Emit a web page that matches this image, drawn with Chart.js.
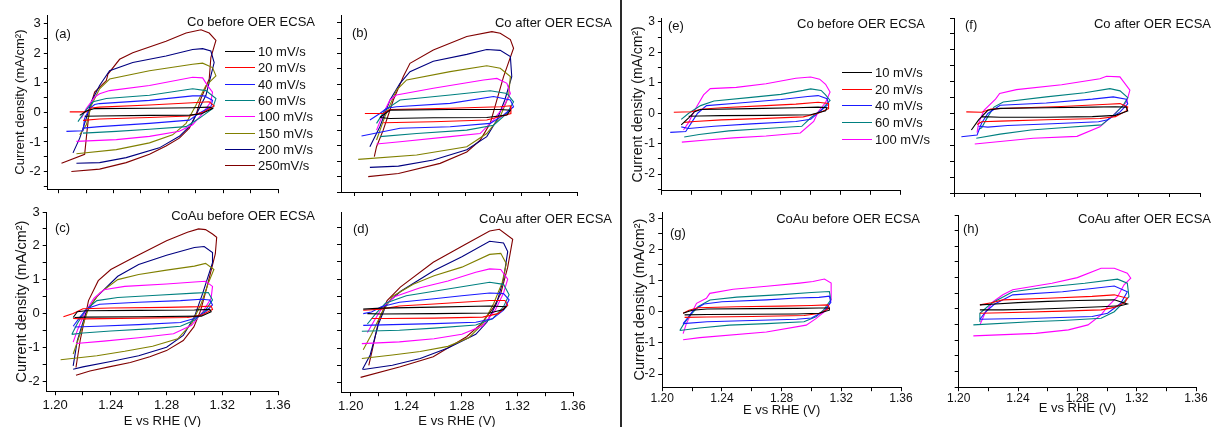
<!DOCTYPE html>
<html>
<head>
<meta charset="utf-8">
<script src="https://cdn.jsdelivr.net/npm/chart.js@4.4.1/dist/chart.umd.min.js"></script>
<style>
  html, body { margin: 0; padding: 0; background: #fff; overflow: hidden; }
  body { width: 1213px; height: 427px; position: relative; font-family: "Liberation Sans", Arial, sans-serif; }
  canvas { position: absolute; }
  .txt { position: absolute; white-space: nowrap; font-size: 13px; line-height: 13px; color: #111; }
  .key { position: absolute; height: 1px; }
</style>
</head>
<body>
<script>
// scan rates, colours, ticks
const scanRates = ['10 mV/s', '20 mV/s', '40 mV/s', '60 mV/s', '100 mV/s', '150 mV/s', '200 mV/s', '250mV/s'];
const lineColors = ['#000000', '#ff0000', '#1a1aff', '#008080', '#ff00ff', '#808000', '#000080', '#800000'];
const xTicks = [1.20, 1.22, 1.24, 1.26, 1.28, 1.30, 1.32, 1.34, 1.36];
const xTickLabels = ['1.20', '1.24', '1.28', '1.32', '1.36'];
const yTicks = [-2.5, -2, -1.5, -1, -0.5, 0, 0.5, 1, 1.5, 2, 2.5, 3];
const yTickLabels = ['-2', '-1', '0', '1', '2', '3'];

// (a) Co before OER ECSA  [E (V), j (mA/cm2)]
const a10 = [[1.2153,-0.10],[1.2201,0.05],[1.2262,0.13],[1.2662,0.14],[1.2977,0.16],[1.3098,0.18],[1.3122,0.13],[1.3038,-0.05],[1.2953,-0.09],[1.2662,-0.10],[1.2298,-0.12],[1.2189,-0.13]];
const a20 = [[1.2080,0.02],[1.2201,0.02],[1.2238,0.15],[1.2298,0.18],[1.2662,0.25],[1.2977,0.33],[1.3098,0.36],[1.3134,0.22],[1.3062,0.02],[1.2953,-0.12],[1.2662,-0.17],[1.2298,-0.22],[1.2177,-0.27]];
const a40 = [[1.2056,-0.64],[1.2177,-0.62],[1.2189,-0.20],[1.2225,0.13],[1.2262,0.27],[1.2298,0.30],[1.2662,0.41],[1.2977,0.56],[1.3062,0.56],[1.3122,0.41],[1.3110,0.19],[1.3025,-0.03],[1.2953,-0.26],[1.2662,-0.37],[1.2298,-0.48],[1.2177,-0.53]];
const a60 = [[1.2140,-0.31],[1.2189,0.02],[1.2250,0.36],[1.2347,0.47],[1.2662,0.58],[1.2977,0.80],[1.3074,0.74],[1.3147,0.47],[1.3122,0.13],[1.3025,-0.20],[1.2929,-0.48],[1.2662,-0.57],[1.2420,-0.64],[1.2177,-0.70]];
const a100 = [[1.2165,-0.20],[1.2201,0.13],[1.2262,0.52],[1.2298,0.63],[1.2371,0.74],[1.2662,0.91],[1.2977,1.19],[1.3050,1.17],[1.3086,0.91],[1.3122,0.69],[1.3110,0.36],[1.3050,-0.03],[1.2977,-0.42],[1.2880,-0.64],[1.2662,-0.81],[1.2420,-0.92],[1.2129,-0.98]];
const a150 = [[1.2153,-0.76],[1.2201,-0.42],[1.2238,0.24],[1.2298,0.80],[1.2371,1.13],[1.2662,1.41],[1.2977,1.63],[1.3050,1.67],[1.3122,1.52],[1.3147,1.24],[1.3074,0.91],[1.3001,0.24],[1.2929,-0.37],[1.2831,-0.76],[1.2662,-1.03],[1.2420,-1.26],[1.2129,-1.40]];
const a200 = [[1.2104,-1.37],[1.2153,-0.87],[1.2201,-0.20],[1.2238,0.36],[1.2298,0.91],[1.2371,1.41],[1.2540,1.69],[1.2783,1.91],[1.2977,2.13],[1.3050,2.16],[1.3110,2.08],[1.3134,1.69],[1.3110,1.24],[1.3074,0.58],[1.3025,0.13],[1.2965,-0.42],[1.2880,-0.81],[1.2734,-1.20],[1.2492,-1.53],[1.2298,-1.70],[1.2129,-1.72]];
const a250 = [[1.2020,-1.72],[1.2189,-1.42],[1.2206,-0.64],[1.2225,0.13],[1.2262,0.69],[1.2347,1.08],[1.2359,1.30],[1.2444,1.80],[1.2540,2.02],[1.2783,2.41],[1.2929,2.69],[1.3038,2.80],[1.3098,2.69],[1.3147,2.44],[1.3110,1.86],[1.3098,1.13],[1.3038,0.47],[1.3001,-0.09],[1.2953,-0.53],[1.2880,-0.87],[1.2783,-1.14],[1.2662,-1.42],[1.2492,-1.70],[1.2298,-1.92],[1.2092,-2.00]];

// (b) Co after OER ECSA
const b10 = [[1.2180,-0.08],[1.2253,0.16],[1.2686,0.18],[1.3047,0.18],[1.3120,0.16],[1.3095,0.00],[1.2950,-0.08],[1.2565,-0.09],[1.2253,-0.11],[1.2180,-0.08]];
const b20 = [[1.2072,0.05],[1.2204,0.05],[1.2253,0.18],[1.2686,0.22],[1.3047,0.27],[1.3120,0.30],[1.3124,0.05],[1.3047,-0.05],[1.2950,-0.16],[1.2565,-0.22],[1.2204,-0.25]];
const b40 = [[1.2108,-0.16],[1.2180,0.05],[1.2229,0.22],[1.2300,0.27],[1.2686,0.38],[1.2999,0.60],[1.3120,0.49],[1.3143,0.27],[1.3071,0.00],[1.2975,-0.27],[1.2686,-0.38],[1.2325,-0.43],[1.2048,-0.68]];
const b60 = [[1.2156,-0.27],[1.2216,0.16],[1.2325,0.49],[1.2686,0.65],[1.2975,0.79],[1.3095,0.70],[1.3143,0.43],[1.3095,0.05],[1.2999,-0.33],[1.2806,-0.49],[1.2445,-0.60],[1.2180,-0.70]];
const b100 = [[1.2156,-0.49],[1.2204,0.05],[1.2253,0.49],[1.2300,0.65],[1.2565,0.87],[1.2927,1.14],[1.3023,1.19],[1.3095,1.03],[1.3120,0.70],[1.3071,0.27],[1.2999,-0.16],[1.2902,-0.60],[1.2686,-0.70],[1.2325,-0.87],[1.2156,-0.94]];
const b150 = [[1.2156,-0.81],[1.2216,-0.05],[1.2300,0.81],[1.2373,1.14],[1.2686,1.41],[1.2950,1.60],[1.3047,1.52],[1.3120,1.25],[1.3107,0.60],[1.3047,-0.05],[1.2950,-0.60],[1.2806,-1.03],[1.2445,-1.30],[1.2024,-1.44]];
const b200 = [[1.2108,-1.03],[1.2180,-0.38],[1.2253,0.49],[1.2325,1.03],[1.2397,1.41],[1.2565,1.75],[1.2806,1.97],[1.2950,2.13],[1.3047,2.10],[1.3120,1.90],[1.3130,1.25],[1.3080,0.49],[1.3023,-0.16],[1.2950,-0.70],[1.2806,-1.13],[1.2565,-1.46],[1.2314,-1.66],[1.2108,-1.70]];
const b250 = [[1.2140,-1.35],[1.2156,-1.03],[1.2204,-0.49],[1.2277,0.49],[1.2349,1.25],[1.2397,1.68],[1.2565,2.11],[1.2806,2.55],[1.2987,2.71],[1.3047,2.66],[1.3120,2.45],[1.3143,2.17],[1.3071,1.25],[1.3023,0.49],[1.2975,-0.27],[1.2902,-0.82],[1.2806,-1.20],[1.2614,-1.57],[1.2314,-1.90],[1.2096,-2.00]];

// (c) CoAu before OER ECSA
const c10 = [[1.2130,-0.12],[1.2160,0.05],[1.2220,0.08],[1.2600,0.09],[1.3000,0.10],[1.3110,0.12],[1.3120,0.05],[1.3050,-0.08],[1.2600,-0.10],[1.2220,-0.11],[1.2140,-0.12]];
const c20 = [[1.2060,-0.10],[1.2130,0.00],[1.2200,0.14],[1.2400,0.16],[1.2800,0.18],[1.3050,0.20],[1.3120,0.22],[1.3130,0.12],[1.3050,-0.05],[1.2950,-0.12],[1.2600,-0.14],[1.2200,-0.16],[1.2130,-0.15]];
const c40 = [[1.2130,-0.38],[1.2180,-0.10],[1.2230,0.15],[1.2320,0.27],[1.2600,0.33],[1.2900,0.38],[1.3050,0.42],[1.3110,0.40],[1.3130,0.25],[1.3080,0.05],[1.3000,-0.15],[1.2900,-0.27],[1.2600,-0.33],[1.2300,-0.38],[1.2140,-0.40]];
const c60 = [[1.2120,-0.62],[1.2160,-0.30],[1.2220,0.10],[1.2300,0.38],[1.2450,0.47],[1.2700,0.53],[1.3000,0.60],[1.3100,0.62],[1.3130,0.40],[1.3080,0.10],[1.3000,-0.20],[1.2900,-0.38],[1.2700,-0.45],[1.2400,-0.52],[1.2200,-0.58],[1.2120,-0.62]];
const c100 = [[1.2130,-0.85],[1.2160,-0.50],[1.2210,0.00],[1.2280,0.45],[1.2350,0.70],[1.2500,0.80],[1.2800,0.87],[1.3000,0.93],[1.3080,0.95],[1.3130,0.80],[1.3120,0.45],[1.3060,0.05],[1.2980,-0.35],[1.2850,-0.60],[1.2600,-0.72],[1.2350,-0.82],[1.2150,-0.89]];
const c150 = [[1.2130,-1.20],[1.2180,-0.60],[1.2240,0.15],[1.2320,0.60],[1.2450,1.00],[1.2600,1.15],[1.2800,1.28],[1.3000,1.40],[1.3080,1.48],[1.3140,1.30],[1.3100,0.90],[1.3050,0.30],[1.2980,-0.30],[1.2880,-0.75],[1.2700,-0.97],[1.2500,-1.12],[1.2300,-1.25],[1.2040,-1.37]];
const c200 = [[1.2130,-1.55],[1.2160,-0.80],[1.2220,0.00],[1.2300,0.50],[1.2450,1.10],[1.2600,1.45],[1.2800,1.72],[1.3000,1.95],[1.3070,1.98],[1.3130,1.80],[1.3130,1.50],[1.3060,0.60],[1.3000,-0.10],[1.2920,-0.65],[1.2800,-1.00],[1.2600,-1.25],[1.2400,-1.42],[1.2200,-1.58],[1.2130,-1.65]];
const c250 = [[1.2150,-1.60],[1.2180,-0.80],[1.2240,0.38],[1.2310,0.97],[1.2400,1.30],[1.2560,1.65],[1.2800,2.15],[1.2950,2.40],[1.3030,2.50],[1.3080,2.48],[1.3130,2.35],[1.3160,2.25],[1.3150,1.76],[1.3090,0.78],[1.3045,0.09],[1.2996,-0.40],[1.2920,-0.80],[1.2800,-1.10],[1.2680,-1.28],[1.2540,-1.45],[1.2387,-1.58],[1.2250,-1.70],[1.2150,-1.83]];

// (d) CoAu after OER ECSA
const d10 = [[1.2090,0.13],[1.2220,0.16],[1.2600,0.19],[1.3000,0.22],[1.3120,0.20],[1.3100,0.12],[1.3000,0.02],[1.2600,0.00],[1.2220,-0.01],[1.2120,0.00]];
const d20 = [[1.2090,0.10],[1.2220,0.13],[1.2350,0.22],[1.2600,0.28],[1.2800,0.33],[1.3000,0.38],[1.3110,0.38],[1.3130,0.25],[1.3060,0.00],[1.2950,-0.10],[1.2600,-0.13],[1.2250,-0.14],[1.2150,-0.14]];
const d40 = [[1.2090,0.00],[1.2150,0.05],[1.2220,0.20],[1.2350,0.33],[1.2600,0.43],[1.2800,0.52],[1.3000,0.60],[1.3100,0.58],[1.3140,0.40],[1.3100,0.10],[1.3020,-0.15],[1.2900,-0.25],[1.2600,-0.29],[1.2300,-0.32],[1.2090,-0.34]];
const d60 = [[1.2120,-0.30],[1.2180,0.00],[1.2250,0.30],[1.2400,0.52],[1.2600,0.65],[1.2800,0.78],[1.3000,0.91],[1.3100,0.85],[1.3140,0.55],[1.3100,0.20],[1.3020,-0.15],[1.2900,-0.33],[1.2600,-0.42],[1.2350,-0.48],[1.2080,-0.51]];
const d100 = [[1.2120,-0.55],[1.2170,-0.20],[1.2230,0.20],[1.2320,0.50],[1.2500,0.75],[1.2700,0.95],[1.2900,1.20],[1.3000,1.30],[1.3080,1.28],[1.3130,1.00],[1.3100,0.60],[1.3040,0.10],[1.2950,-0.35],[1.2800,-0.60],[1.2600,-0.73],[1.2350,-0.82],[1.2080,-0.87]];
const d150 = [[1.2090,-1.05],[1.2150,-0.60],[1.2220,0.00],[1.2300,0.50],[1.2450,0.85],[1.2600,1.10],[1.2800,1.35],[1.3000,1.72],[1.3080,1.75],[1.3120,1.45],[1.3090,0.90],[1.3030,0.30],[1.2950,-0.30],[1.2850,-0.70],[1.2700,-0.95],[1.2500,-1.10],[1.2300,-1.20],[1.2080,-1.30]];
const d200 = [[1.2084,-1.62],[1.2140,-1.20],[1.2200,-0.30],[1.2260,0.30],[1.2360,0.65],[1.2600,1.25],[1.2800,1.65],[1.3000,2.10],[1.3100,2.05],[1.3130,1.80],[1.3100,1.00],[1.3050,0.30],[1.2980,-0.25],[1.2900,-0.60],[1.2700,-1.00],[1.2500,-1.30],[1.2300,-1.50],[1.2090,-1.62]];
const d250 = [[1.2130,-1.50],[1.2155,-1.06],[1.2202,-0.19],[1.2262,0.38],[1.2357,0.77],[1.2594,1.49],[1.2830,2.02],[1.3000,2.40],[1.3070,2.45],[1.3166,2.16],[1.3130,1.35],[1.3080,0.58],[1.3030,0.19],[1.2940,-0.29],[1.2834,-0.67],[1.2594,-1.25],[1.2357,-1.54],[1.2071,-1.85]];

// (e) Co before OER ECSA
const e10 = [[1.2130,-0.38],[1.2180,-0.15],[1.2220,0.05],[1.2260,0.12],[1.2600,0.15],[1.2900,0.18],[1.3050,0.20],[1.3110,0.18],[1.3100,0.08],[1.3000,-0.05],[1.2700,-0.07],[1.2400,-0.08],[1.2250,-0.09],[1.2180,-0.10]];
const e20 = [[1.2080,0.03],[1.2200,0.05],[1.2260,0.13],[1.2400,0.18],[1.2700,0.25],[1.2900,0.30],[1.3050,0.36],[1.3120,0.32],[1.3120,0.15],[1.3050,0.00],[1.2950,-0.12],[1.2700,-0.17],[1.2400,-0.22],[1.2220,-0.27],[1.2150,-0.30]];
const e40 = [[1.2056,-0.63],[1.2160,-0.60],[1.2200,-0.30],[1.2240,0.00],[1.2300,0.25],[1.2500,0.33],[1.2800,0.45],[1.2980,0.55],[1.3050,0.58],[1.3110,0.48],[1.3120,0.30],[1.3060,0.05],[1.3000,-0.20],[1.2900,-0.27],[1.2600,-0.35],[1.2350,-0.43],[1.2180,-0.50],[1.2130,-0.45]];
const e60 = [[1.2130,-0.20],[1.2180,0.00],[1.2260,0.25],[1.2350,0.40],[1.2600,0.52],[1.2800,0.62],[1.2950,0.75],[1.3000,0.80],[1.3070,0.75],[1.3100,0.60],[1.3130,0.42],[1.3070,0.10],[1.3000,-0.15],[1.2940,-0.43],[1.2700,-0.50],[1.2450,-0.58],[1.2250,-0.70],[1.2150,-0.78]];
const e100 = [[1.2145,-0.55],[1.2180,-0.30],[1.2220,0.10],[1.2280,0.60],[1.2325,0.81],[1.2500,0.85],[1.2700,0.97],[1.2900,1.15],[1.3000,1.19],[1.3060,1.12],[1.3100,0.95],[1.3130,0.70],[1.3100,0.35],[1.3050,0.05],[1.3020,-0.27],[1.2930,-0.65],[1.2700,-0.75],[1.2480,-0.81],[1.2300,-0.88],[1.2134,-0.95]];

// (f) Co after OER ECSA
const f10 = [[1.2113,-0.52],[1.2160,-0.20],[1.2220,0.10],[1.2300,0.16],[1.2600,0.18],[1.2900,0.20],[1.3050,0.21],[1.3120,0.20],[1.3130,0.08],[1.3050,-0.06],[1.2900,-0.10],[1.2600,-0.12],[1.2300,-0.12],[1.2180,-0.10]];
const f20 = [[1.2080,0.05],[1.2180,0.04],[1.2240,0.14],[1.2400,0.17],[1.2700,0.22],[1.3000,0.29],[1.3080,0.31],[1.3130,0.20],[1.3120,0.08],[1.3050,-0.10],[1.2950,-0.16],[1.2600,-0.20],[1.2300,-0.24],[1.2180,-0.26],[1.2150,-0.35]];
const f40 = [[1.2048,-0.73],[1.2150,-0.68],[1.2180,-0.30],[1.2220,0.00],[1.2300,0.26],[1.2600,0.33],[1.2900,0.45],[1.3036,0.52],[1.3120,0.45],[1.3130,0.30],[1.3080,0.05],[1.3000,-0.20],[1.2940,-0.26],[1.2600,-0.33],[1.2350,-0.38],[1.2220,-0.43],[1.2160,-0.40]];
const f60 = [[1.2160,-0.50],[1.2180,-0.45],[1.2220,-0.10],[1.2260,0.20],[1.2320,0.36],[1.2600,0.52],[1.2850,0.65],[1.3014,0.78],[1.3080,0.71],[1.3130,0.50],[1.3100,0.25],[1.3050,0.00],[1.2960,-0.36],[1.2700,-0.45],[1.2500,-0.52],[1.2300,-0.65],[1.2145,-0.78]];
const f100 = [[1.2150,-0.60],[1.2160,-0.31],[1.2195,0.10],[1.2270,0.45],[1.2297,0.63],[1.2406,0.75],[1.2700,0.90],[1.2949,1.09],[1.2992,1.17],[1.3079,1.15],[1.3144,0.73],[1.3123,0.36],[1.3080,0.16],[1.3036,-0.05],[1.2949,-0.42],[1.2800,-0.72],[1.2515,-0.78],[1.2300,-0.88],[1.2135,-0.96]];

// (g) CoAu before OER ECSA
const g10 = [[1.2140,-0.05],[1.2200,0.05],[1.2300,0.09],[1.2600,0.10],[1.2900,0.11],[1.3050,0.12],[1.3120,0.12],[1.3120,0.05],[1.3050,-0.05],[1.2900,-0.07],[1.2600,-0.08],[1.2300,-0.09],[1.2150,-0.10]];
const g20 = [[1.2140,-0.05],[1.2180,0.05],[1.2240,0.13],[1.2500,0.16],[1.2800,0.18],[1.3000,0.20],[1.3110,0.22],[1.3120,0.12],[1.3060,-0.05],[1.2950,-0.12],[1.2600,-0.15],[1.2300,-0.17],[1.2150,-0.18]];
const g40 = [[1.2140,-0.38],[1.2170,-0.20],[1.2210,0.05],[1.2280,0.25],[1.2400,0.32],[1.2700,0.38],[1.2900,0.44],[1.3050,0.46],[1.3120,0.50],[1.3130,0.30],[1.3080,0.00],[1.3000,-0.20],[1.2900,-0.24],[1.2600,-0.28],[1.2300,-0.32],[1.2140,-0.38]];
const g60 = [[1.2118,-0.60],[1.2150,-0.35],[1.2190,-0.10],[1.2240,0.16],[1.2320,0.38],[1.2500,0.47],[1.2800,0.55],[1.3000,0.62],[1.3120,0.65],[1.3130,0.38],[1.3080,0.05],[1.3030,-0.16],[1.2950,-0.32],[1.2700,-0.38],[1.2450,-0.43],[1.2250,-0.52],[1.2118,-0.60]];
const g100 = [[1.2140,-0.70],[1.2162,-0.38],[1.2196,-0.05],[1.2230,0.27],[1.2296,0.43],[1.2319,0.59],[1.2475,0.72],[1.2700,0.82],[1.2920,0.92],[1.3010,0.97],[1.3087,1.05],[1.3132,0.92],[1.3132,0.38],[1.3100,0.05],[1.3030,-0.22],[1.2965,-0.43],[1.2698,-0.65],[1.2252,-0.83],[1.2140,-0.90]];

// (h) CoAu after OER ECSA
const h10 = [[1.2143,0.13],[1.2220,0.15],[1.2400,0.20],[1.2600,0.24],[1.2800,0.27],[1.3049,0.29],[1.3137,0.16],[1.3090,0.10],[1.2960,0.07],[1.2700,0.02],[1.2500,-0.01],[1.2298,-0.03],[1.2143,-0.03]];
const h20 = [[1.2143,0.13],[1.2220,0.20],[1.2298,0.29],[1.2600,0.34],[1.2900,0.40],[1.3049,0.45],[1.3137,0.34],[1.3120,0.20],[1.3050,0.05],[1.2960,-0.03],[1.2700,-0.07],[1.2298,-0.12],[1.2143,-0.14]];
const h40 = [[1.2143,-0.33],[1.2180,-0.10],[1.2240,0.15],[1.2364,0.45],[1.2700,0.55],[1.2900,0.65],[1.3049,0.73],[1.3137,0.55],[1.3093,0.18],[1.3004,-0.14],[1.2900,-0.24],[1.2519,-0.30],[1.2143,-0.33]];
const h60 = [[1.2140,-0.40],[1.2143,-0.14],[1.2221,0.18],[1.2364,0.55],[1.2600,0.70],[1.2850,0.82],[1.3071,0.95],[1.3137,0.82],[1.3148,0.39],[1.3049,-0.09],[1.2960,-0.30],[1.2700,-0.37],[1.2519,-0.40],[1.2099,-0.51]];
const h100 = [[1.2143,-0.51],[1.2177,-0.14],[1.2232,0.23],[1.2298,0.45],[1.2364,0.61],[1.2629,0.82],[1.2800,1.00],[1.2960,1.30],[1.3049,1.30],[1.3137,1.14],[1.3160,0.98],[1.3115,0.77],[1.3071,0.39],[1.3004,0.07],[1.2960,-0.19],[1.2872,-0.51],[1.2740,-0.67],[1.2519,-0.78],[1.2099,-0.86]];

// panel layout: plot-area edges in page pixels plus axis ranges
const panels = [
  { loops: [a10,a20,a40,a60,a100,a150,a200,a250], left: 48, right: 278, top: 15, bottom: 192, xMin: 1.192, xMax: 1.36, yMin: -2.6, yMax: 3.3, yTitleX: 21, yTitleSize: 13, yLabels: true, tickSize: 13 },
  { loops: [b10,b20,b40,b60,b100,b150,b200,b250], left: 341, right: 577, top: 15, bottom: 192, xMin: 1.19, xMax: 1.36, yMin: -2.5, yMax: 3.25, tickSize: 13 },
  { loops: [c10,c20,c40,c60,c100,c150,c200,c250], left: 47, right: 278, top: 212, bottom: 391, xMin: 1.194, xMax: 1.36, yMin: -2.3, yMax: 3.0, yTitleX: 22, yTitleSize: 14.5, yLabels: true, xTitleY: 421, xLabels: true, tickSize: 13, tickPad: 2 },
  { loops: [d10,d20,d40,d60,d100,d150,d200,d250], left: 341, right: 573, top: 212, bottom: 392, xMin: 1.193, xMax: 1.36, yMin: -2.28, yMax: 2.95, xTitleY: 421, xLabels: true, tickSize: 13, tickPad: 2 },
  { loops: [e10,e20,e40,e60,e100], left: 662, right: 900, top: 18, bottom: 193, xMin: 1.20, xMax: 1.36, yMin: -2.55, yMax: 3.13, yTitleX: 638.5, yTitleSize: 14, yLabels: true, tickSize: 12 },
  { loops: [f10,f20,f40,f60,f100], left: 954, right: 1200, top: 18, bottom: 193, xMin: 1.20, xMax: 1.36, yMin: -2.5, yMax: 3.0, tickSize: 12 },
  { loops: [g10,g20,g40,g60,g100], left: 662, right: 901, top: 212, bottom: 387, xMin: 1.20, xMax: 1.36, yMin: -2.42, yMax: 3.2, yTitleX: 639.5, yTitleSize: 14.5, yLabels: true, xTitleY: 410, xLabels: true, tickSize: 12, tickPad: 0 },
  { loops: [h10,h20,h40,h60,h100], left: 955, right: 1196, top: 215, bottom: 387, xMin: 1.20, xMax: 1.36, yMin: -2.5, yMax: 3.0, xTitleY: 408, xLabels: true, tickSize: 12, tickPad: 0 }
];

const notes = [
  { text: 'Co before OER ECSA', right: 315, cy: 21 }, { text: 'Co after OER ECSA', right: 612, cy: 22 },
  { text: 'CoAu before OER ECSA', right: 315, cy: 215 }, { text: 'CoAu after OER ECSA', right: 612, cy: 218 },
  { text: 'Co before OER ECSA', right: 925, cy: 23 }, { text: 'Co after OER ECSA', right: 1211, cy: 23 },
  { text: 'CoAu before OER ECSA', right: 920, cy: 218 }, { text: 'CoAu after OER ECSA', right: 1211, cy: 218 }
];
const letters = [
  { text: '(a)', left: 55, cy: 33 }, { text: '(b)', left: 352, cy: 32 }, { text: '(c)', left: 55, cy: 227 }, { text: '(d)', left: 353, cy: 228 },
  { text: '(e)', left: 668, cy: 25 }, { text: '(f)', left: 965, cy: 24 }, { text: '(g)', left: 670, cy: 232 }, { text: '(h)', left: 963, cy: 228 }
];
const legends = [
  { left: 225, cy: 51, step: 16.33, count: 8 },
  { left: 842, cy: 72, step: 16.7, count: 5 }
];

const FONT = '"Liberation Sans", Arial, sans-serif';
const INK = '#111';

function addText(t, left, cy, size) {
  const d = document.createElement('div');
  d.className = 'txt';
  d.textContent = t;
  d.style.left = left + 'px';
  d.style.top = (cy - size * 0.49) + 'px';
  document.body.appendChild(d);
  return d;
}

function buildPanel(p) {
  const padTop = 12, padRight = 16;
  const yW = p.yTitleX ? p.left - (p.yTitleX - p.yTitleSize * 0.6) : 8;
  const xH = p.xTitleY ? (p.xTitleY + 13 * 0.6) - p.bottom : 8;
  const cv = document.createElement('canvas');
  cv.width = Math.round((p.right - p.left) + yW + padRight);
  cv.height = Math.round((p.bottom - p.top) + padTop + xH);
  cv.style.left = (p.left - yW) + 'px';
  cv.style.top = (p.top - padTop) + 'px';
  document.body.appendChild(cv);

  const axisGrid = { display: true, drawOnChartArea: false, drawTicks: true, tickLength: 4, color: '#000', tickColor: '#000', tickWidth: 1 };
  const axisBorder = { display: true, color: '#000', width: 1 };

  new Chart(cv, {
    type: 'scatter',
    data: {
      datasets: p.loops.map((pts, i) => ({
        label: scanRates[i],
        data: pts.map(([x, y]) => ({ x: x, y: y })),
        showLine: true,
        borderColor: lineColors[i],
        borderWidth: 1.1,
        pointRadius: 0,
        tension: 0,
        fill: false
      }))
    },
    options: {
      responsive: false,
      animation: false,
      events: [],
      layout: { padding: { top: padTop, right: padRight, left: 0, bottom: 0 } },
      plugins: { legend: { display: false }, tooltip: { enabled: false } },
      scales: {
        x: {
          type: 'linear', min: p.xMin, max: p.xMax,
          grid: axisGrid, border: axisBorder,
          afterBuildTicks: s => { s.ticks = xTicks.filter(v => v >= p.xMin && v <= p.xMax).map(v => ({ value: v })); },
          afterFit: s => { s.height = xH; },
          ticks: {
            display: !!p.xLabels, autoSkip: false, maxRotation: 0, minRotation: 0,
            padding: p.tickPad !== undefined ? p.tickPad : 2,
            color: INK, font: { family: FONT, size: p.tickSize },
            callback: v => xTickLabels.includes(v.toFixed(2)) ? v.toFixed(2) : ''
          },
          title: { display: !!p.xTitleY, text: 'E vs RHE (V)', color: INK, padding: 0, font: { family: FONT, size: 13 } }
        },
        y: {
          type: 'linear', min: p.yMin, max: p.yMax,
          grid: axisGrid, border: axisBorder,
          afterBuildTicks: s => { s.ticks = yTicks.filter(v => v >= p.yMin && v <= p.yMax).map(v => ({ value: v })); },
          afterFit: s => { s.width = yW; },
          ticks: {
            display: !!p.yLabels, autoSkip: false, padding: 3,
            color: INK, font: { family: FONT, size: p.tickSize },
            callback: v => yTickLabels.includes(String(v)) ? String(v) : ''
          },
          title: { display: !!p.yTitleX, text: 'Current density (mA/cm\u00B2)', color: INK, padding: 0, font: { family: FONT, size: p.yTitleSize || 13 } }
        }
      }
    }
  });
}

panels.forEach(buildPanel);

// separator between the two figure halves
const sep = document.createElement('div');
sep.style.cssText = 'position:absolute;left:620px;top:0;width:2px;height:427px;background:#2a2a2a;';
document.body.appendChild(sep);

notes.forEach(n => {
  const d = addText(n.text, n.right, n.cy, 13);
  d.style.transform = 'translateX(-100%)';
});
letters.forEach(l => addText(l.text, l.left, l.cy, 13));

legends.forEach(lg => {
  for (let i = 0; i < lg.count; i++) {
    const cy = Math.round(lg.cy + i * lg.step);
    const k = document.createElement('div');
    k.className = 'key';
    k.style.left = lg.left + 'px';
    k.style.top = cy + 'px';
    k.style.width = '30px';
    k.style.background = lineColors[i];
    document.body.appendChild(k);
    addText(scanRates[i], lg.left + 33, cy + 0.5, 13);
  }
});
</script>
</body>
</html>
